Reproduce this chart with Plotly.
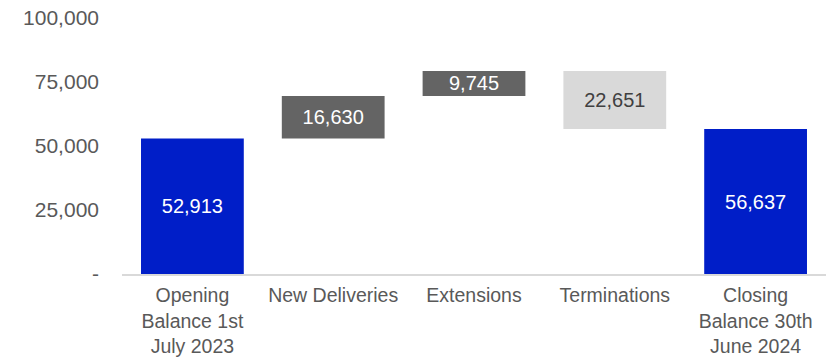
import plotly.graph_objects as go

# Lease portfolio movement, FY2023/24
categories = [
    "Opening<br>Balance 1st<br>July 2023",
    "New Deliveries",
    "Extensions",
    "Terminations",
    "Closing<br>Balance 30th<br>June 2024",
]
values = [52913, 16630, 9745, -22651, 56637]
measures = ["absolute", "relative", "relative", "relative", "total"]

y_tick_vals = [0, 25000, 50000, 75000, 100000]
y_tick_text = ["-", "25,000", "50,000", "75,000", "100,000"]

BLUE = "#001EC8"
DARK_GREY = "#646464"
LIGHT_GREY = "#D9D9D9"
LABEL_GREY = "#595959"

labels = [f"{abs(v):,}" for v in values]
label_colors = ["white", "white", "white", "#404040", "white"]

fig = go.Figure(
    go.Waterfall(
        x=categories,
        y=values,
        measure=measures,
        text=labels,
        textposition="inside",
        insidetextanchor="middle",
        textangle=0,
        constraintext="none",
        textfont=dict(family="Liberation Sans", size=20, color=label_colors),
        increasing=dict(marker=dict(color=DARK_GREY)),
        decreasing=dict(marker=dict(color=LIGHT_GREY)),
        totals=dict(marker=dict(color=BLUE)),
        connector=dict(visible=False),
        hoverinfo="skip",
    )
)

fig.update_layout(
    width=829,
    height=358,
    margin=dict(l=122, r=3, t=18, b=84),
    paper_bgcolor="white",
    plot_bgcolor="white",
    showlegend=False,
    waterfallgap=0.27,
    font=dict(family="Liberation Sans", size=20, color=LABEL_GREY),
)

fig.update_xaxes(
    automargin=False,
    showgrid=False,
    showline=True,
    linecolor=LIGHT_GREY,
    linewidth=2,
    ticks="",
    ticklabelstandoff=3,
    tickfont=dict(size=19.5, color=LABEL_GREY),
    tickangle=0,
)

fig.update_yaxes(
    automargin=False,
    range=[0, 100000],
    tickvals=y_tick_vals,
    ticktext=y_tick_text,
    showgrid=False,
    zeroline=False,
    showline=False,
    ticks="",
    ticklabelstandoff=22,
    tickfont=dict(size=21, color=LABEL_GREY),
)

fig.write_html("out.html")
